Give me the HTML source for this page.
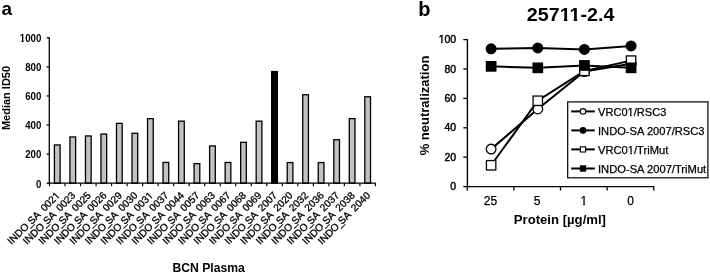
<!DOCTYPE html>
<html><head><meta charset="utf-8"><style>
html,body{margin:0;padding:0;background:#fff;width:710px;height:274px;overflow:hidden}
svg{display:block;filter:grayscale(1)}
text{font-family:"Liberation Sans", sans-serif;fill:#000}
.s{stroke:#000;stroke-width:0.3px}
.s2{stroke:#000;stroke-width:0.25px}
.s3{stroke:#000;stroke-width:0.45px}
</style></head><body>
<svg width="710" height="274" viewBox="0 0 710 274">
<rect width="710" height="274" fill="#fff"/>
<rect x="54.41" y="144.95" width="5.70" height="38.25" fill="#c2c2c2" stroke="#000" stroke-width="1.3"/>
<rect x="69.93" y="136.95" width="5.70" height="46.25" fill="#c2c2c2" stroke="#000" stroke-width="1.3"/>
<rect x="85.45" y="135.95" width="5.70" height="47.25" fill="#c2c2c2" stroke="#000" stroke-width="1.3"/>
<rect x="100.97" y="134.05" width="5.70" height="49.15" fill="#c2c2c2" stroke="#000" stroke-width="1.3"/>
<rect x="116.49" y="123.35" width="5.70" height="59.85" fill="#c2c2c2" stroke="#000" stroke-width="1.3"/>
<rect x="132.01" y="133.25" width="5.70" height="49.95" fill="#c2c2c2" stroke="#000" stroke-width="1.3"/>
<rect x="147.53" y="118.65" width="5.70" height="64.55" fill="#c2c2c2" stroke="#000" stroke-width="1.3"/>
<rect x="163.05" y="162.45" width="5.70" height="20.75" fill="#c2c2c2" stroke="#000" stroke-width="1.3"/>
<rect x="178.57" y="121.15" width="5.70" height="62.05" fill="#c2c2c2" stroke="#000" stroke-width="1.3"/>
<rect x="194.09" y="163.65" width="5.70" height="19.55" fill="#c2c2c2" stroke="#000" stroke-width="1.3"/>
<rect x="209.61" y="145.95" width="5.70" height="37.25" fill="#c2c2c2" stroke="#000" stroke-width="1.3"/>
<rect x="225.13" y="162.45" width="5.70" height="20.75" fill="#c2c2c2" stroke="#000" stroke-width="1.3"/>
<rect x="240.65" y="142.35" width="5.70" height="40.85" fill="#c2c2c2" stroke="#000" stroke-width="1.3"/>
<rect x="256.17" y="121.15" width="5.70" height="62.05" fill="#c2c2c2" stroke="#000" stroke-width="1.3"/>
<rect x="271.69" y="71.55" width="5.70" height="111.65" fill="#000" stroke="#000" stroke-width="1.3"/>
<rect x="287.21" y="162.55" width="5.70" height="20.65" fill="#c2c2c2" stroke="#000" stroke-width="1.3"/>
<rect x="302.73" y="94.75" width="5.70" height="88.45" fill="#c2c2c2" stroke="#000" stroke-width="1.3"/>
<rect x="318.25" y="162.55" width="5.70" height="20.65" fill="#c2c2c2" stroke="#000" stroke-width="1.3"/>
<rect x="333.77" y="139.75" width="5.70" height="43.45" fill="#c2c2c2" stroke="#000" stroke-width="1.3"/>
<rect x="349.29" y="118.65" width="5.70" height="64.55" fill="#c2c2c2" stroke="#000" stroke-width="1.3"/>
<rect x="364.81" y="96.75" width="5.70" height="86.45" fill="#c2c2c2" stroke="#000" stroke-width="1.3"/>
<path d="M49.3 37.199999999999996V183.2H375.72" fill="none" stroke="#000" stroke-width="1.3"/>
<path d="M46.599999999999994 183.20H49.3" stroke="#000" stroke-width="1.3"/>
<text x="41.3" y="187.50" font-size="10" font-weight="bold" text-anchor="end" textLength="5.38" lengthAdjust="spacingAndGlyphs">0</text>
<path d="M46.599999999999994 154.12H49.3" stroke="#000" stroke-width="1.3"/>
<text x="41.3" y="158.42" font-size="10" font-weight="bold" text-anchor="end" textLength="16.14" lengthAdjust="spacingAndGlyphs">200</text>
<path d="M46.599999999999994 125.04H49.3" stroke="#000" stroke-width="1.3"/>
<text x="41.3" y="129.34" font-size="10" font-weight="bold" text-anchor="end" textLength="16.14" lengthAdjust="spacingAndGlyphs">400</text>
<path d="M46.599999999999994 95.96H49.3" stroke="#000" stroke-width="1.3"/>
<text x="41.3" y="100.26" font-size="10" font-weight="bold" text-anchor="end" textLength="16.14" lengthAdjust="spacingAndGlyphs">600</text>
<path d="M46.599999999999994 66.88H49.3" stroke="#000" stroke-width="1.3"/>
<text x="41.3" y="71.18" font-size="10" font-weight="bold" text-anchor="end" textLength="16.14" lengthAdjust="spacingAndGlyphs">800</text>
<path d="M46.599999999999994 37.80H49.3" stroke="#000" stroke-width="1.3"/>
<text x="41.3" y="42.10" font-size="10" font-weight="bold" text-anchor="end" textLength="21.52" lengthAdjust="spacingAndGlyphs">1000</text>
<path d="M49.50 183.2V186.2" stroke="#000" stroke-width="1.2"/>
<path d="M65.02 183.2V186.2" stroke="#000" stroke-width="1.2"/>
<path d="M80.54 183.2V186.2" stroke="#000" stroke-width="1.2"/>
<path d="M96.06 183.2V186.2" stroke="#000" stroke-width="1.2"/>
<path d="M111.58 183.2V186.2" stroke="#000" stroke-width="1.2"/>
<path d="M127.10 183.2V186.2" stroke="#000" stroke-width="1.2"/>
<path d="M142.62 183.2V186.2" stroke="#000" stroke-width="1.2"/>
<path d="M158.14 183.2V186.2" stroke="#000" stroke-width="1.2"/>
<path d="M173.66 183.2V186.2" stroke="#000" stroke-width="1.2"/>
<path d="M189.18 183.2V186.2" stroke="#000" stroke-width="1.2"/>
<path d="M204.70 183.2V186.2" stroke="#000" stroke-width="1.2"/>
<path d="M220.22 183.2V186.2" stroke="#000" stroke-width="1.2"/>
<path d="M235.74 183.2V186.2" stroke="#000" stroke-width="1.2"/>
<path d="M251.26 183.2V186.2" stroke="#000" stroke-width="1.2"/>
<path d="M266.78 183.2V186.2" stroke="#000" stroke-width="1.2"/>
<path d="M282.30 183.2V186.2" stroke="#000" stroke-width="1.2"/>
<path d="M297.82 183.2V186.2" stroke="#000" stroke-width="1.2"/>
<path d="M313.34 183.2V186.2" stroke="#000" stroke-width="1.2"/>
<path d="M328.86 183.2V186.2" stroke="#000" stroke-width="1.2"/>
<path d="M344.38 183.2V186.2" stroke="#000" stroke-width="1.2"/>
<path d="M359.90 183.2V186.2" stroke="#000" stroke-width="1.2"/>
<path d="M375.42 183.2V186.2" stroke="#000" stroke-width="1.2"/>
<text transform="translate(60.56 196.10) rotate(-45)" font-size="10.15" text-anchor="end" class="s">INDO_<tspan dx="-2.5">SA</tspan><tspan dx="2.5"> 0021</tspan></text>
<text transform="translate(76.08 196.10) rotate(-45)" font-size="10.15" text-anchor="end" class="s">INDO_<tspan dx="-2.5">SA</tspan><tspan dx="2.5"> 0023</tspan></text>
<text transform="translate(91.60 196.10) rotate(-45)" font-size="10.15" text-anchor="end" class="s">INDO_<tspan dx="-2.5">SA</tspan><tspan dx="2.5"> 0025</tspan></text>
<text transform="translate(107.12 196.10) rotate(-45)" font-size="10.15" text-anchor="end" class="s">INDO_<tspan dx="-2.5">SA</tspan><tspan dx="2.5"> 0026</tspan></text>
<text transform="translate(122.64 196.10) rotate(-45)" font-size="10.15" text-anchor="end" class="s">INDO_<tspan dx="-2.5">SA</tspan><tspan dx="2.5"> 0029</tspan></text>
<text transform="translate(138.16 196.10) rotate(-45)" font-size="10.15" text-anchor="end" class="s">INDO_<tspan dx="-2.5">SA</tspan><tspan dx="2.5"> 0030</tspan></text>
<text transform="translate(153.68 196.10) rotate(-45)" font-size="10.15" text-anchor="end" class="s">INDO_<tspan dx="-2.5">SA</tspan><tspan dx="2.5"> 0031</tspan></text>
<text transform="translate(169.20 196.10) rotate(-45)" font-size="10.15" text-anchor="end" class="s">INDO_<tspan dx="-2.5">SA</tspan><tspan dx="2.5"> 0037</tspan></text>
<text transform="translate(184.72 196.10) rotate(-45)" font-size="10.15" text-anchor="end" class="s">INDO_<tspan dx="-2.5">SA</tspan><tspan dx="2.5"> 0044</tspan></text>
<text transform="translate(200.24 196.10) rotate(-45)" font-size="10.15" text-anchor="end" class="s">INDO_<tspan dx="-2.5">SA</tspan><tspan dx="2.5"> 0057</tspan></text>
<text transform="translate(215.76 196.10) rotate(-45)" font-size="10.15" text-anchor="end" class="s">INDO_<tspan dx="-2.5">SA</tspan><tspan dx="2.5"> 0063</tspan></text>
<text transform="translate(231.28 196.10) rotate(-45)" font-size="10.15" text-anchor="end" class="s">INDO_<tspan dx="-2.5">SA</tspan><tspan dx="2.5"> 0067</tspan></text>
<text transform="translate(246.80 196.10) rotate(-45)" font-size="10.15" text-anchor="end" class="s">INDO_<tspan dx="-2.5">SA</tspan><tspan dx="2.5"> 0068</tspan></text>
<text transform="translate(262.32 196.10) rotate(-45)" font-size="10.15" text-anchor="end" class="s">INDO_<tspan dx="-2.5">SA</tspan><tspan dx="2.5"> 0069</tspan></text>
<text transform="translate(277.84 196.10) rotate(-45)" font-size="10.15" text-anchor="end" class="s">INDO_<tspan dx="-2.5">SA</tspan><tspan dx="2.5"> 2007</tspan></text>
<text transform="translate(293.36 196.10) rotate(-45)" font-size="10.15" text-anchor="end" class="s">INDO_<tspan dx="-2.5">SA</tspan><tspan dx="2.5"> 2020</tspan></text>
<text transform="translate(308.88 196.10) rotate(-45)" font-size="10.15" text-anchor="end" class="s">INDO_<tspan dx="-2.5">SA</tspan><tspan dx="2.5"> 2032</tspan></text>
<text transform="translate(324.40 196.10) rotate(-45)" font-size="10.15" text-anchor="end" class="s">INDO_<tspan dx="-2.5">SA</tspan><tspan dx="2.5"> 2036</tspan></text>
<text transform="translate(339.92 196.10) rotate(-45)" font-size="10.15" text-anchor="end" class="s">INDO_<tspan dx="-2.5">SA</tspan><tspan dx="2.5"> 2037</tspan></text>
<text transform="translate(355.44 196.10) rotate(-45)" font-size="10.15" text-anchor="end" class="s">INDO_<tspan dx="-2.5">SA</tspan><tspan dx="2.5"> 2038</tspan></text>
<text transform="translate(370.96 196.10) rotate(-45)" font-size="10.15" text-anchor="end" class="s">INDO_<tspan dx="-2.5">SA</tspan><tspan dx="2.5"> 2040</tspan></text>
<text transform="translate(10 98) rotate(-90)" font-size="11" font-weight="bold" text-anchor="middle">Median ID50</text>
<text x="172.4" y="272" font-size="12" font-weight="bold" textLength="72.4" lengthAdjust="spacingAndGlyphs">BCN Plasma</text>
<text x="1.5" y="14.9" font-size="19" font-weight="bold">a</text>
<path d="M467.4 39.0V186.6H654.0999999999999" fill="none" stroke="#000" stroke-width="1.4"/>
<path d="M463.29999999999995 186.60H467.4" stroke="#000" stroke-width="1.3"/>
<text x="456.2" y="190.20" font-size="11.6" text-anchor="end" class="s3" textLength="5.85" lengthAdjust="spacingAndGlyphs">0</text>
<path d="M463.29999999999995 157.20H467.4" stroke="#000" stroke-width="1.3"/>
<text x="456.2" y="160.80" font-size="11.6" text-anchor="end" class="s3" textLength="11.70" lengthAdjust="spacingAndGlyphs">20</text>
<path d="M463.29999999999995 127.80H467.4" stroke="#000" stroke-width="1.3"/>
<text x="456.2" y="131.40" font-size="11.6" text-anchor="end" class="s3" textLength="11.70" lengthAdjust="spacingAndGlyphs">40</text>
<path d="M463.29999999999995 98.40H467.4" stroke="#000" stroke-width="1.3"/>
<text x="456.2" y="102.00" font-size="11.6" text-anchor="end" class="s3" textLength="11.70" lengthAdjust="spacingAndGlyphs">60</text>
<path d="M463.29999999999995 69.00H467.4" stroke="#000" stroke-width="1.3"/>
<text x="456.2" y="72.60" font-size="11.6" text-anchor="end" class="s3" textLength="11.70" lengthAdjust="spacingAndGlyphs">80</text>
<path d="M463.29999999999995 39.60H467.4" stroke="#000" stroke-width="1.3"/>
<text x="456.2" y="43.20" font-size="11.6" text-anchor="end" class="s3" textLength="17.55" lengthAdjust="spacingAndGlyphs">100</text>
<path d="M467.20 186.6V190.5" stroke="#000" stroke-width="1.3"/>
<path d="M513.85 186.6V190.5" stroke="#000" stroke-width="1.3"/>
<path d="M560.50 186.6V190.5" stroke="#000" stroke-width="1.3"/>
<path d="M607.15 186.6V190.5" stroke="#000" stroke-width="1.3"/>
<path d="M653.80 186.6V190.5" stroke="#000" stroke-width="1.3"/>
<text x="490.52" y="205.3" font-size="12" text-anchor="middle" class="s2">25</text>
<text x="537.17" y="205.3" font-size="12" text-anchor="middle" class="s2">5</text>
<text x="583.82" y="205.3" font-size="12" text-anchor="middle" class="s2">1</text>
<text x="630.47" y="205.3" font-size="12" text-anchor="middle" class="s2">0</text>
<text transform="translate(428.5 105.5) rotate(-90)" font-size="13" font-weight="bold" text-anchor="middle">% neutralization</text>
<text x="513.8" y="223.8" font-size="13" font-weight="bold" textLength="92.2" lengthAdjust="spacingAndGlyphs">Protein [µg/ml]</text>
<text x="418.2" y="15.5" font-size="20" font-weight="bold">b</text>
<text x="526.8" y="20.6" font-size="18" font-weight="bold" textLength="87.6" lengthAdjust="spacingAndGlyphs">25711-2.4</text>
<polyline points="491.12,149.12 537.77,108.98 584.42,71.50 631.07,63.85" fill="none" stroke="#000" stroke-width="2"/>
<circle cx="491.12" cy="149.12" r="4.8500000000000005" fill="#fff" stroke="#000" stroke-width="1.3"/>
<circle cx="537.77" cy="108.98" r="4.8500000000000005" fill="#fff" stroke="#000" stroke-width="1.3"/>
<circle cx="584.42" cy="71.50" r="4.8500000000000005" fill="#fff" stroke="#000" stroke-width="1.3"/>
<circle cx="631.07" cy="63.85" r="4.8500000000000005" fill="#fff" stroke="#000" stroke-width="1.3"/>
<polyline points="491.12,165.28 537.77,100.75 584.42,70.91 631.07,60.62" fill="none" stroke="#000" stroke-width="2"/>
<rect x="486.43" y="160.58" width="9.40" height="9.40" fill="#fff" stroke="#000" stroke-width="1.3"/>
<rect x="533.08" y="96.05" width="9.40" height="9.40" fill="#fff" stroke="#000" stroke-width="1.3"/>
<rect x="579.73" y="66.21" width="9.40" height="9.40" fill="#fff" stroke="#000" stroke-width="1.3"/>
<rect x="626.38" y="55.92" width="9.40" height="9.40" fill="#fff" stroke="#000" stroke-width="1.3"/>
<polyline points="491.12,48.86 537.77,47.98 584.42,49.45 631.07,45.92" fill="none" stroke="#000" stroke-width="2"/>
<circle cx="491.12" cy="48.86" r="4.8500000000000005" fill="#000" stroke="#000" stroke-width="1.3"/>
<circle cx="537.77" cy="47.98" r="4.8500000000000005" fill="#000" stroke="#000" stroke-width="1.3"/>
<circle cx="584.42" cy="49.45" r="4.8500000000000005" fill="#000" stroke="#000" stroke-width="1.3"/>
<circle cx="631.07" cy="45.92" r="4.8500000000000005" fill="#000" stroke="#000" stroke-width="1.3"/>
<polyline points="491.12,66.35 537.77,67.82 584.42,65.47 631.07,67.82" fill="none" stroke="#000" stroke-width="2"/>
<rect x="486.43" y="61.65" width="9.40" height="9.40" fill="#000" stroke="#000" stroke-width="1.3"/>
<rect x="533.08" y="63.12" width="9.40" height="9.40" fill="#000" stroke="#000" stroke-width="1.3"/>
<rect x="579.73" y="60.77" width="9.40" height="9.40" fill="#000" stroke="#000" stroke-width="1.3"/>
<rect x="626.38" y="63.12" width="9.40" height="9.40" fill="#000" stroke="#000" stroke-width="1.3"/>
<rect x="567.7" y="101.9" width="140.2" height="75.9" fill="#fff" stroke="#000" stroke-width="1.2"/>
<path d="M571.2 111.4H594.8" stroke="#000" stroke-width="2"/>
<circle cx="583" cy="111.4" r="2.75" fill="#fff" stroke="#000" stroke-width="1.15"/>
<text x="598" y="115.9" font-size="11" class="s2" textLength="68.4" lengthAdjust="spacingAndGlyphs">VRC01/RSC3</text>
<path d="M571.2 130.4H594.8" stroke="#000" stroke-width="2"/>
<circle cx="583" cy="130.4" r="2.75" fill="#000" stroke="#000" stroke-width="1.15"/>
<text x="598" y="134.9" font-size="11" class="s2" textLength="106.5" lengthAdjust="spacingAndGlyphs">INDO-SA 2007/RSC3</text>
<path d="M571.2 149.4H594.8" stroke="#000" stroke-width="2"/>
<rect x="580.4" y="146.8" width="5.2" height="5.2" fill="#fff" stroke="#000" stroke-width="1.1"/>
<text x="598" y="153.9" font-size="11" class="s2" textLength="70.3" lengthAdjust="spacingAndGlyphs">VRC01/TriMut</text>
<path d="M571.2 168.5H594.8" stroke="#000" stroke-width="2"/>
<rect x="580.4" y="165.9" width="5.2" height="5.2" fill="#000" stroke="#000" stroke-width="1.1"/>
<text x="598" y="173.0" font-size="11" class="s2" textLength="108.2" lengthAdjust="spacingAndGlyphs">INDO-SA 2007/TriMut</text>
<path d="M19.89 40.18H21.69V43.50H19.89ZM23.71 40.18H25.39V43.50H23.71Z" fill="#fff"/>
<path d="M-5.37 -1.66H-3.44V1.40H-5.37ZM-1.84 -1.66H0.01V1.40H-1.84Z" fill="#fff" transform="translate(60.56 196.10) rotate(-45)"/>
<path d="M-5.37 -1.66H-3.44V1.40H-5.37ZM-1.84 -1.66H0.01V1.40H-1.84Z" fill="#fff" transform="translate(153.68 196.10) rotate(-45)"/>
<path d="M438.95 41.43H440.95V44.60H438.95ZM442.58 41.43H444.49V44.60H442.58Z" fill="#fff"/>
<path d="M580.89 203.50H583.14V206.70H580.89ZM584.90 203.50H587.06V206.70H584.90Z" fill="#fff"/>
<path d="M560.39 17.86H563.90V22.00H560.39ZM567.30 17.86H570.56V22.00H567.30ZM570.25 17.86H573.76V22.00H570.25ZM577.16 17.86H580.42V22.00H577.16Z" fill="#fff"/>
<path d="M627.91 114.18H630.00V117.30H627.91ZM631.68 114.18H633.69V117.30H631.68Z" fill="#fff"/>
<path d="M628.11 152.18H630.22V155.30H628.11ZM631.90 152.18H633.92V155.30H631.90Z" fill="#fff"/>
</svg>
</body></html>
